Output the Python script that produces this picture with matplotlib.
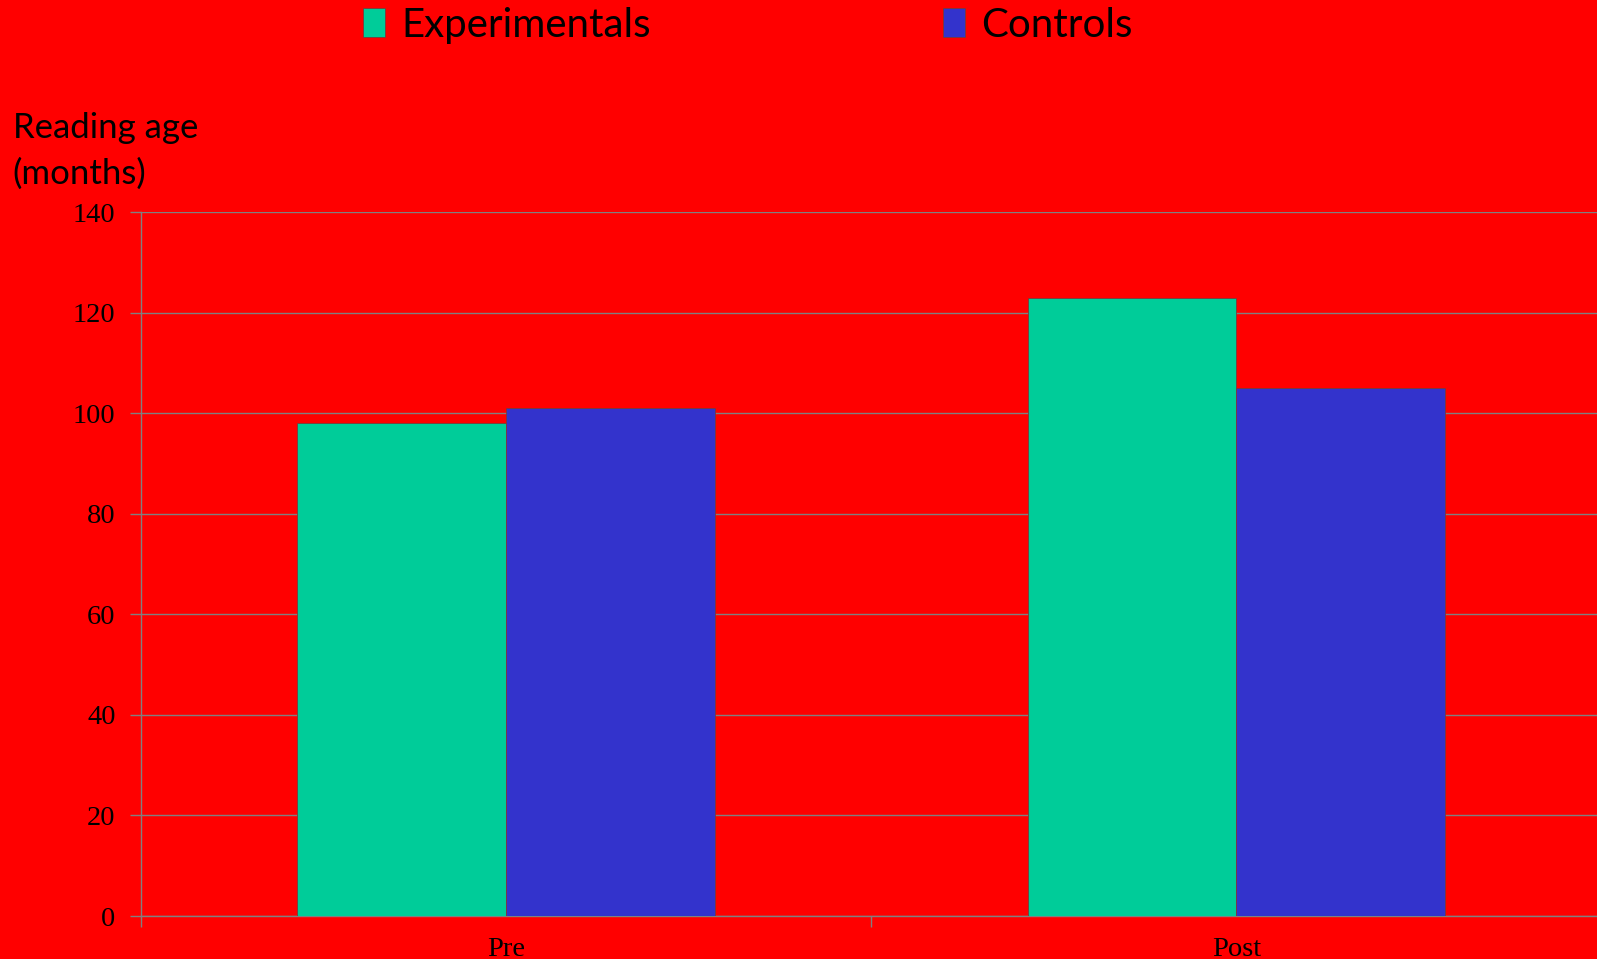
import numpy as np
import matplotlib
matplotlib.use("Agg")
import matplotlib.pyplot as plt

#---Chart data:
categories = ["Pre", "Post"]
experimentals = [98, 123]
controls = [101, 105]
series_names = ["Experimentals", "Controls"]
y_ticks = [0, 20, 40, 60, 80, 100, 120, 140]

#---Colours:
bg_red = "#FF0000"
green = "#00CC99"
blue = "#3333CC"
grid_grey = "#808080"

fig = plt.figure(figsize=(15.97, 9.59), dpi=100, facecolor=bg_red)
ax = fig.add_axes([0.088, 0.0448, 0.915, 0.734], facecolor=bg_red)

x = np.arange(len(categories))
bar_w = 0.286
b1 = ax.bar(x - bar_w / 2, experimentals, bar_w, color=green,
            edgecolor="#7a3a3a", linewidth=0.6, zorder=3)
b2 = ax.bar(x + bar_w / 2, controls, bar_w, color=blue,
            edgecolor="#7a3a3a", linewidth=0.6, zorder=3)

#---Axes limits and ticks:
ax.set_xlim(-0.5, len(categories) - 0.5)
ax.set_ylim(0, 140)
ax.set_yticks(y_ticks)
ax.set_yticklabels([str(v) for v in y_ticks], family="Liberation Serif",
                   fontsize=20.5)
ax.set_xticks(x)
ax.set_xticklabels(categories, family="Liberation Serif", fontsize=20.5)
ax.set_xticks(np.arange(len(categories) + 1) - 0.5, minor=True)
ax.tick_params(axis="x", which="major", length=0, pad=15)
ax.tick_params(axis="x", which="minor", length=8, color=grid_grey, width=1)
ax.tick_params(axis="y", length=8, color=grid_grey, width=1, pad=10)

#---Grid and spines:
ax.yaxis.grid(True, color=grid_grey, linewidth=1, zorder=0)
ax.set_axisbelow(True)
for side in ["top", "right"]:
    ax.spines[side].set_visible(False)
for side in ["left", "bottom"]:
    ax.spines[side].set_color(grid_grey)
    ax.spines[side].set_linewidth(1)

#---Y label (top-left, two lines):
fig.text(0.008, 0.883, "Reading age\n(months)", family="Lato", fontsize=25,
         ha="left", va="top", linespacing=1.5)

#---Legend:
fig.legend([b1, b2], series_names, loc="upper left",
           bbox_to_anchor=(0.2044, 1.031), ncol=2, frameon=False,
           prop={"family": "Lato", "size": 29}, handlelength=0.55,
           handleheight=0.7, handletextpad=0.4, columnspacing=7.25)

fig.savefig("out.png", dpi=100, facecolor=bg_red)
